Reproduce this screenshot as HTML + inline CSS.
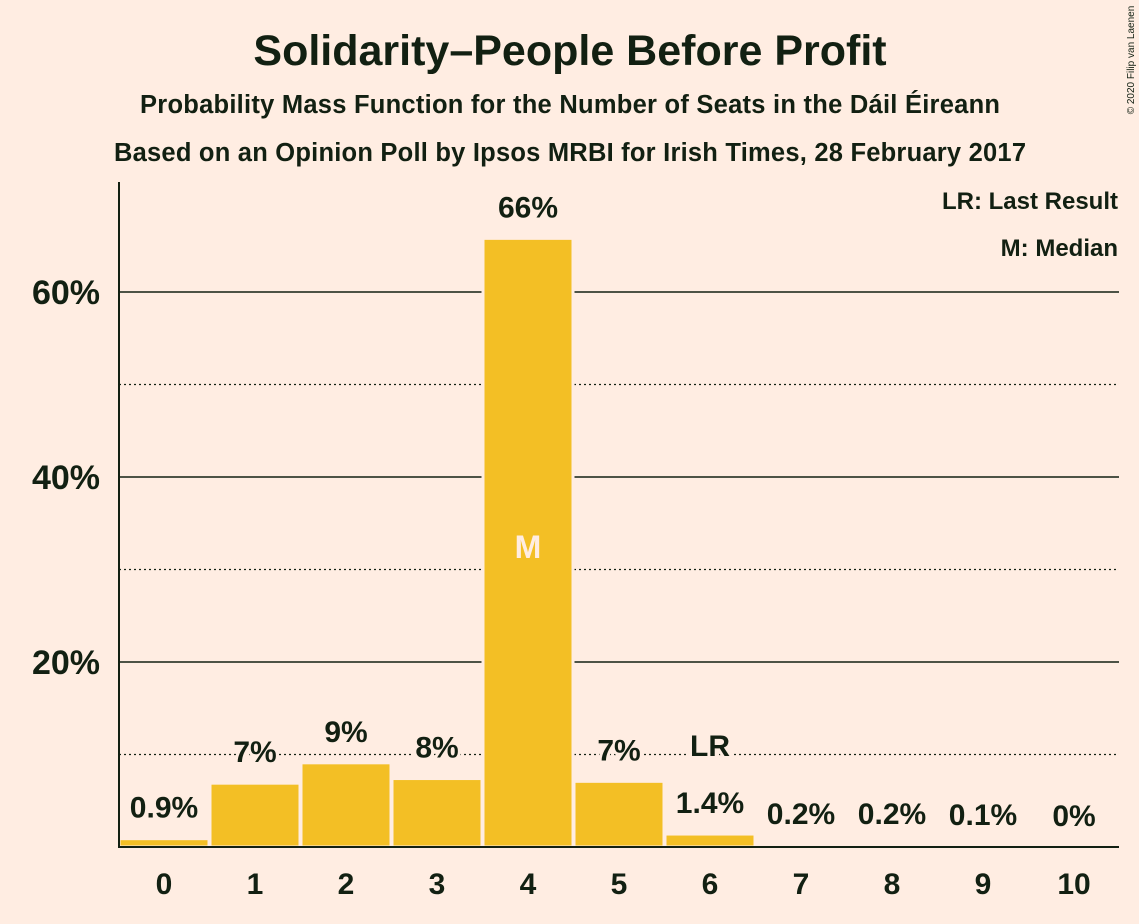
<!DOCTYPE html>
<html><head><meta charset="utf-8"><style>
body{margin:0;background:#FFEDE2;}
svg{display:block;font-family:"Liberation Sans",sans-serif;}
</style></head><body>
<svg id="chart" width="1139" height="924">
<rect width="1139" height="924" fill="#FFEDE2"/>
<text x="570" y="65" text-anchor="middle" font-size="43" font-weight="bold" fill="#122012">Solidarity–People Before Profit</text>
<text x="570" y="113" text-anchor="middle" font-size="25.5" font-weight="bold" fill="#122012" textLength="860">Probability Mass Function for the Number of Seats in the Dáil Éireann</text>
<text x="570" y="161" text-anchor="middle" font-size="25.5" font-weight="bold" fill="#122012" textLength="912">Based on an Opinion Poll by Ipsos MRBI for Irish Times, 28 February 2017</text>
<text x="1134" y="60" font-size="10" fill="#122012" transform="rotate(-90 1134 60)" text-anchor="middle">© 2020 Filip van Laenen</text>
<text x="1118" y="209" text-anchor="end" font-size="24" font-weight="bold" fill="#122012">LR: Last Result</text>
<text x="1118" y="256" text-anchor="end" font-size="24" font-weight="bold" fill="#122012">M: Median</text>
<g id="grid"></g>
<g id="bars"></g>
<g id="labels"></g>
<line x1="119" y1="182" x2="119" y2="848" stroke="#122012" stroke-width="2"/>
<line x1="118" y1="847" x2="1119" y2="847" stroke="#122012" stroke-width="2"/>
</svg>
<script>
const categories=[0,1,2,3,4,5,6,7,8,9,10];
const values=[0.9,6.9,9.1,7.4,65.8,7.1,1.4,0.2,0.2,0.1,0];
const valueLabels=["0.9%","7%","9%","8%","66%","7%","1.4%","0.2%","0.2%","0.1%","0%"];
const majorTicks=[20,40,60];
const minorTicks=[10,30,50];
const lastResult=6;
const median=4;
const NS="http://www.w3.org/2000/svg";
const y=v=>847-v*9.25;
const x=i=>119+i*91;
function mk(t,a,p){const e=document.createElementNS(NS,t);for(const k in a)e.setAttribute(k,a[k]);p.appendChild(e);return e;}
const grid=document.getElementById('grid'),bars=document.getElementById('bars'),labels=document.getElementById('labels');
minorTicks.forEach(v=>{const l=mk('line',{x1:119,x2:1119,y1:y(v),y2:y(v),stroke:'#122012','stroke-width':1.2,'stroke-dasharray':'2,3'},grid);

});
majorTicks.forEach(v=>{const l=mk('line',{x1:119,x2:1119,y1:y(v),y2:y(v),stroke:'#122012','stroke-width':1.6},grid);


const t=mk('text',{x:100,y:y(v)+12,'text-anchor':'end','font-size':34,'font-weight':'bold',fill:'#122012'},grid);t.textContent=v+'%';

});
categories.forEach((c,i)=>{
 const h=values[i]*9.25;
 if(h>0){const r=mk('rect',{x:x(i),y:847-h,width:90,height:h,fill:'#F3BF25',stroke:'#FFEDE2','stroke-width':3},bars);
 
 }
 const cx=x(i)+45;
 const t=mk('text',{x:cx,y:y(values[i])-21,'text-anchor':'middle','font-size':30,'font-weight':'bold',fill:'#122012',stroke:'#FFEDE2','stroke-width':6,'paint-order':'stroke'},labels);t.textContent=valueLabels[i];
 
 
 const xt=mk('text',{x:cx,y:894,'text-anchor':'middle','font-size':30,'font-weight':'bold',fill:'#122012'},labels);xt.textContent=c;
 
 
 if(i===lastResult){const l=mk('text',{x:cx,y:y(values[i])-78,'text-anchor':'middle','font-size':30,'font-weight':'bold',fill:'#122012',stroke:'#FFEDE2','stroke-width':6,'paint-order':'stroke'},labels);l.textContent='LR';
 
 }
 if(i===median){const m=mk('text',{x:cx,y:558,'text-anchor':'middle','font-size':32,'font-weight':'bold',fill:'#FFEDE2'},labels);m.textContent='M';
 
 }
});
</script>
</body></html>
